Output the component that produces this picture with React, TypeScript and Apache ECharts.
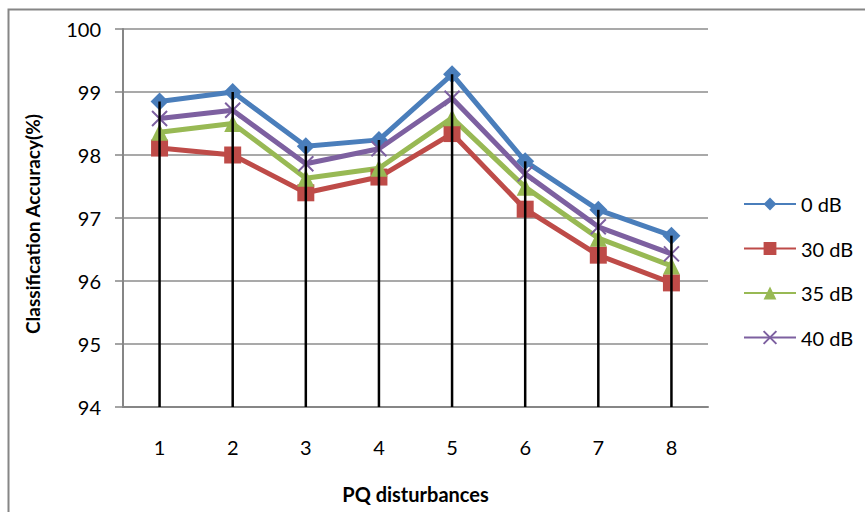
import React, { useEffect, useRef } from "react";
import * as echarts from "echarts";

// PQ disturbance classes on the x axis
const categories = ["1", "2", "3", "4", "5", "6", "7", "8"];

// Classification accuracy (%) per noise level
const acc0dB = [98.85, 99.0, 98.14, 98.24, 99.28, 97.9, 97.13, 96.72];
const acc30dB = [98.11, 98.0, 97.4, 97.65, 98.34, 97.14, 96.41, 95.97];
const acc35dB = [98.36, 98.5, 97.63, 97.79, 98.59, 97.49, 96.68, 96.24];
const acc40dB = [98.58, 98.71, 97.86, 98.1, 98.9, 97.7, 96.86, 96.43];

const seriesNames = ["0 dB", "30 dB", "35 dB", "40 dB"];

const FONT = "Lato, 'Open Sans', sans-serif";
const CROSS = "path://M0,0L10,10M10,0L0,10";

export default function App() {
  const ref = useRef<HTMLDivElement>(null);

  useEffect(() => {
    if (!ref.current) return;
    const chart = echarts.init(ref.current, undefined, { renderer: "svg" });

    // drop lines run from the highest point at each category down to the axis
    const dropTops = categories.map((_, i) =>
      Math.max(acc0dB[i], acc30dB[i], acc35dB[i], acc40dB[i])
    );

    const lineSeries = (
      name: string,
      data: number[],
      color: string,
      symbol: string,
      symbolSize: number
    ) => ({
      name,
      type: "line",
      data,
      symbol,
      symbolSize,
      lineStyle: { color, width: 5 },
      itemStyle: { color },
      z: 3,
    });

    chart.setOption({
      animation: false,
      backgroundColor: "#ffffff",
      textStyle: { fontFamily: FONT, color: "#000" },
      grid: { left: 123, right: 157, top: 29, bottom: 105 },
      legend: {
        data: seriesNames,
        orient: "vertical",
        left: 738,
        top: 189,
        itemWidth: 52,
        itemHeight: 16,
        itemGap: 24.5,
        textStyle: { fontFamily: FONT, fontSize: 20, color: "#000" },
      },
      xAxis: {
        type: "category",
        data: categories,
        boundaryGap: true,
        axisLine: { lineStyle: { color: "#868686", width: 2 } },
        axisTick: { show: false },
        axisLabel: { margin: 30, fontSize: 20, color: "#000", fontFamily: FONT },
        name: "PQ disturbances",
        nameLocation: "middle",
        nameGap: 77,
        nameTextStyle: { fontSize: 20, fontWeight: "bold", color: "#000", fontFamily: FONT },
      },
      yAxis: {
        type: "value",
        min: 94,
        max: 100,
        interval: 1,
        axisLine: { show: true, lineStyle: { color: "#868686", width: 2 } },
        axisTick: { show: true, length: 8, lineStyle: { color: "#868686", width: 1.5 } },
        axisLabel: { margin: 22, fontSize: 20, color: "#000", fontFamily: FONT },
        splitLine: { lineStyle: { color: "#8c8c8c", width: 1.5 } },
      },
      graphic: [
        {
          type: "rect",
          left: 6,
          top: 7,
          shape: { width: 900, height: 600 },
          style: { fill: "none", stroke: "#868686", lineWidth: 2 },
          silent: true,
          z: -1,
        },
        {
          type: "text",
          x: 32,
          y: 224,
          rotation: Math.PI / 2,
          style: {
            text: "Classification Accuracy(%)",
            font: `bold 19px ${FONT}`,
            fill: "#000",
            align: "center",
            verticalAlign: "middle",
          },
          silent: true,
        },
      ],
      series: [
        lineSeries("0 dB", acc0dB, "#4a7ebb", "diamond", 18),
        lineSeries("30 dB", acc30dB, "#be4b48", "rect", 17),
        lineSeries("35 dB", acc35dB, "#98b954", "triangle", 17),
        {
          ...lineSeries("40 dB", acc40dB, "#7d60a0", CROSS, 15),
          itemStyle: { color: "none", borderColor: "#7d60a0", borderWidth: 2 },
        },
        {
          name: "drop",
          type: "bar",
          data: dropTops,
          barWidth: 2.5,
          itemStyle: { color: "#000" },
          z: 5,
          silent: true,
        },
      ],
    });

    return () => chart.dispose();
  }, []);

  return (
    <div
      ref={ref}
      style={{ position: "fixed", left: 0, top: 0, width: 865, height: 512 }}
    />
  );
}
